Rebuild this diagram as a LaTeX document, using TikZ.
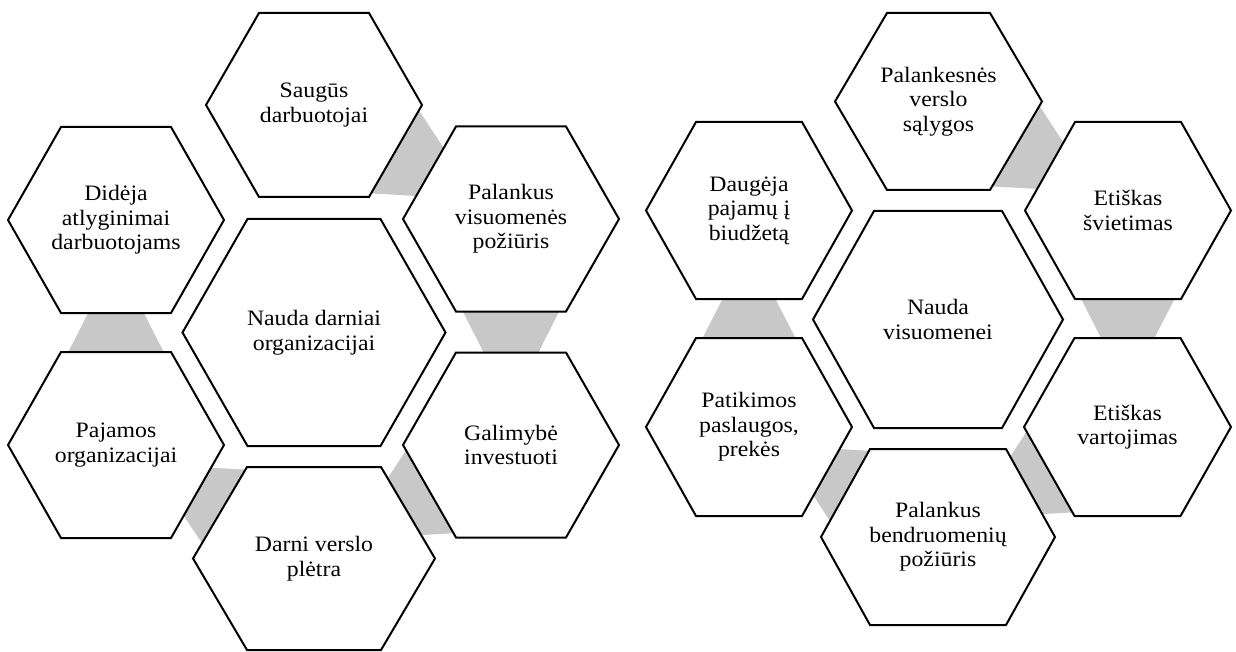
\documentclass[tikz,border=0pt]{standalone}
\usepackage{fontspec}
\setmainfont{Liberation Serif}[FakeStretch=1.08]
\usetikzlibrary{calc,backgrounds}
\definecolor{linkgray}{RGB}{200,200,200}
\tikzset{
  hexline/.style={draw=black, line width=2pt, fill=white, line join=miter},
  hextext/.style={align=center, inner sep=0pt, font=\fontsize{22}{24.5}\selectfont},
  linkfill/.style={fill=linkgray}
}
% #1 name, #2 x, #3 y, #4 half-width, #5 top half-edge, #6 half-height, #7 text
\newcommand\hexcell[7]{%
  \path[hexline] (#2-#4,#3) -- (#2-#5,#3-#6) -- (#2+#5,#3-#6) -- (#2+#4,#3)
     -- (#2+#5,#3+#6) -- (#2-#5,#3+#6) -- cycle;
  \node[hextext] (#1) at (#2,#3) {#7};}
% #1 source, #2 target, #3 half-width at source, #4 apex fraction
\newcommand\hexlink[4]{%
  \path[linkfill] ($(#1)!#3!90:(#2)$) -- ($(#1)!#4!(#2)$) -- ($(#1)!#3!-90:(#2)$) -- cycle;}
\begin{document}
\begin{tikzpicture}[x=1pt,y=-1pt]
\useasboundingbox (0,0) rectangle (1236,652);
% left cluster
\hexcell{Lc}{314}{332.5}{131.5}{66.5}{113.5}{Nauda darniai\\organizacijai}
\hexcell{Ls}{314}{105}{108}{55}{92}{Saugūs\\darbuotojai}
\hexcell{Lp}{511}{219}{108}{55}{92.5}{Palankus\\visuomenės\\požiūris}
\hexcell{Lg}{511}{445}{108}{55}{92.5}{Galimybė\\investuoti}
\hexcell{Ld}{314}{558.5}{121}{67}{91.5}{Darni verslo\\plėtra}
\hexcell{Lj}{116}{445}{108}{55}{93}{Pajamos\\organizacijai}
\hexcell{Li}{116}{220}{108}{55}{93}{Didėja\\atlyginimai\\darbuotojams}
% right cluster
\hexcell{Rc}{938}{319.5}{125}{64}{108.5}{Nauda\\visuomenei}
\hexcell{Rp}{938.5}{101.5}{103.5}{51.5}{88.5}{Palankesnės\\verslo\\sąlygos}
\hexcell{Rs}{1128}{210.5}{103}{53}{88.5}{Etiškas\\švietimas}
\hexcell{Rv}{1127.5}{427}{103.5}{53}{89}{Etiškas\\vartojimas}
\hexcell{Rb}{938}{537}{117}{68}{88}{Palankus\\bendruomenių\\požiūris}
\hexcell{Rt}{749}{427}{103}{53}{89}{Patikimos\\paslaugos,\\prekės}
\hexcell{Rd}{749}{210.5}{103}{53}{88.5}{Daugėja\\pajamų į\\biudžetą}
\begin{pgfonlayer}{background}
\hexlink{Ls}{Lp}{95pt}{0.83}
\hexlink{Lp}{Lg}{95pt}{0.83}
\hexlink{Lg}{Ld}{95pt}{0.83}
\hexlink{Ld}{Lj}{95pt}{0.83}
\hexlink{Lj}{Li}{95pt}{0.83}
\hexlink{Rp}{Rs}{92pt}{0.83}
\hexlink{Rs}{Rv}{92pt}{0.83}
\hexlink{Rv}{Rb}{92pt}{0.83}
\hexlink{Rb}{Rt}{92pt}{0.83}
\hexlink{Rt}{Rd}{92pt}{0.83}
\end{pgfonlayer}
\end{tikzpicture}
\end{document}
